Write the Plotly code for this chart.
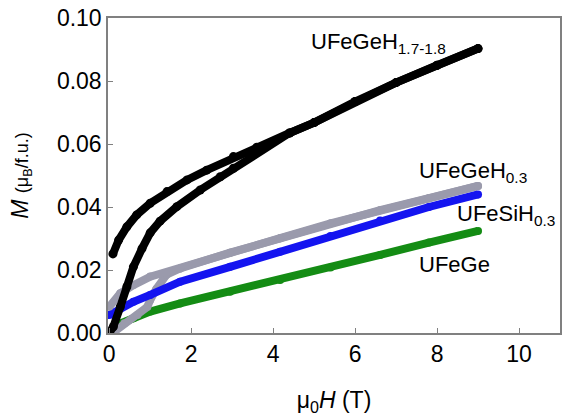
import plotly.graph_objects as go

# UFeGeH1.7-1.8 (black): field-up (lower branch) and field-down (upper branch)
H_black_up = [0.0, 0.1, 0.27, 0.43, 0.59, 0.8, 1.0, 1.24, 1.65, 2.22, 2.71, 3.03, 3.5, 4.0, 4.4, 5.0, 6.0, 7.0, 8.0, 9.0]
M_black_up = [0.0, 0.002, 0.0083, 0.0147, 0.021, 0.0268, 0.0318, 0.0355, 0.0401, 0.0454, 0.0496, 0.0523, 0.0565, 0.0608, 0.0635, 0.0668, 0.0735, 0.0795, 0.085, 0.0903]
H_black_down = [9.0, 8.0, 7.0, 6.0, 5.0, 4.4, 3.6, 3.03, 2.38, 1.9, 1.41, 1.0, 0.67, 0.43, 0.23, 0.09]
M_black_down = [0.0903, 0.085, 0.0795, 0.0735, 0.0668, 0.0635, 0.059, 0.056, 0.0517, 0.0486, 0.0449, 0.0412, 0.0375, 0.0337, 0.0295, 0.0251]

# UFeGeH0.3 (grey)
H_grey_up = [0.08, 0.37, 0.69, 0.93, 1.0, 1.15, 1.4, 1.73, 2.95, 4.17, 5.4, 6.61, 7.8, 9.0]
M_grey_up = [0.0, 0.0031, 0.0057, 0.0083, 0.0105, 0.014, 0.0185, 0.0205, 0.0255, 0.0301, 0.0348, 0.039, 0.0428, 0.0467]
H_grey_down = [9.0, 7.8, 6.61, 5.4, 4.17, 2.95, 1.73, 1.0, 0.59, 0.27, 0.0]
M_grey_down = [0.0467, 0.0428, 0.039, 0.0348, 0.0301, 0.0255, 0.0205, 0.0179, 0.0152, 0.0126, 0.0083]

# UFeSiH0.3 (blue)
H_blue = [0.0, 0.27, 0.59, 1.0, 1.73, 2.95, 4.17, 5.4, 6.61, 7.8, 9.0]
M_blue = [0.0057, 0.0078, 0.0099, 0.0121, 0.0163, 0.021, 0.0258, 0.0308, 0.0357, 0.04, 0.044]

# UFeGe (green)
H_green = [0.0, 0.27, 0.59, 1.0, 1.73, 2.95, 4.17, 5.4, 6.61, 7.8, 9.0]
M_green = [0.0, 0.003, 0.0047, 0.0068, 0.0094, 0.0131, 0.0168, 0.0208, 0.0248, 0.0287, 0.0324]

labels = ["UFeGeH<sub>1.7-1.8</sub>", "UFeGeH<sub>0.3</sub>", "UFeSiH<sub>0.3</sub>", "UFeGe"]
label_pos = [(4.87, 0.092), (7.5, 0.0511), (8.43, 0.0375), (7.5, 0.0216)]

FONT = "Liberation Sans, Arial, sans-serif"
GREY = "#9a9aac"
BLUE = "#1414f0"
GREEN = "#148c14"

fig = go.Figure()

def add(x, y, color, w=8, ms=8):
    fig.add_trace(go.Scatter(x=x, y=y, mode="lines+markers",
                             line=dict(color=color, width=w),
                             marker=dict(color=color, size=ms),
                             showlegend=False, hoverinfo="skip"))

add(H_green, M_green, GREEN)
add(H_grey_up, M_grey_up, GREY)
add(H_blue, M_blue, BLUE)
add(H_grey_down, M_grey_down, GREY)
add(H_black_up, M_black_up, "black", w=8, ms=9)
add(H_black_down, M_black_down, "black", w=8, ms=9)

for txt, (x, y) in zip(labels, label_pos):
    fig.add_annotation(x=x, y=y, text=txt, showarrow=False, xanchor="left", yanchor="middle",
                       font=dict(family=FONT, size=22, color="black"))

axis_common = dict(showline=True, linecolor="#808080", linewidth=1.5, mirror=True,
                   ticks="inside", ticklen=5, tickcolor="#808080", showgrid=False, zeroline=False,
                   tickfont=dict(family=FONT, size=23, color="black"))

fig.update_layout(
    width=565, height=417,
    margin=dict(l=108, r=3, t=18, b=84),
    paper_bgcolor="white", plot_bgcolor="white",
    xaxis=dict(range=[-0.03, 11], tickvals=[0, 2, 4, 6, 8, 10],
               title=dict(text="μ<sub>0</sub><i>H</i> (T)", font=dict(family=FONT, size=23, color="black"), standoff=26),
               **axis_common),
    yaxis=dict(range=[0, 0.1], tickvals=[0, 0.02, 0.04, 0.06, 0.08, 0.10], tickformat=".2f",
               title=dict(text="<i>M</i> <span style='font-size:18px'>(μ<sub>B</sub>/f.u.)</span>",
                          font=dict(family=FONT, size=23, color="black"), standoff=22),
               **axis_common),
)

fig.write_html("out.html")
